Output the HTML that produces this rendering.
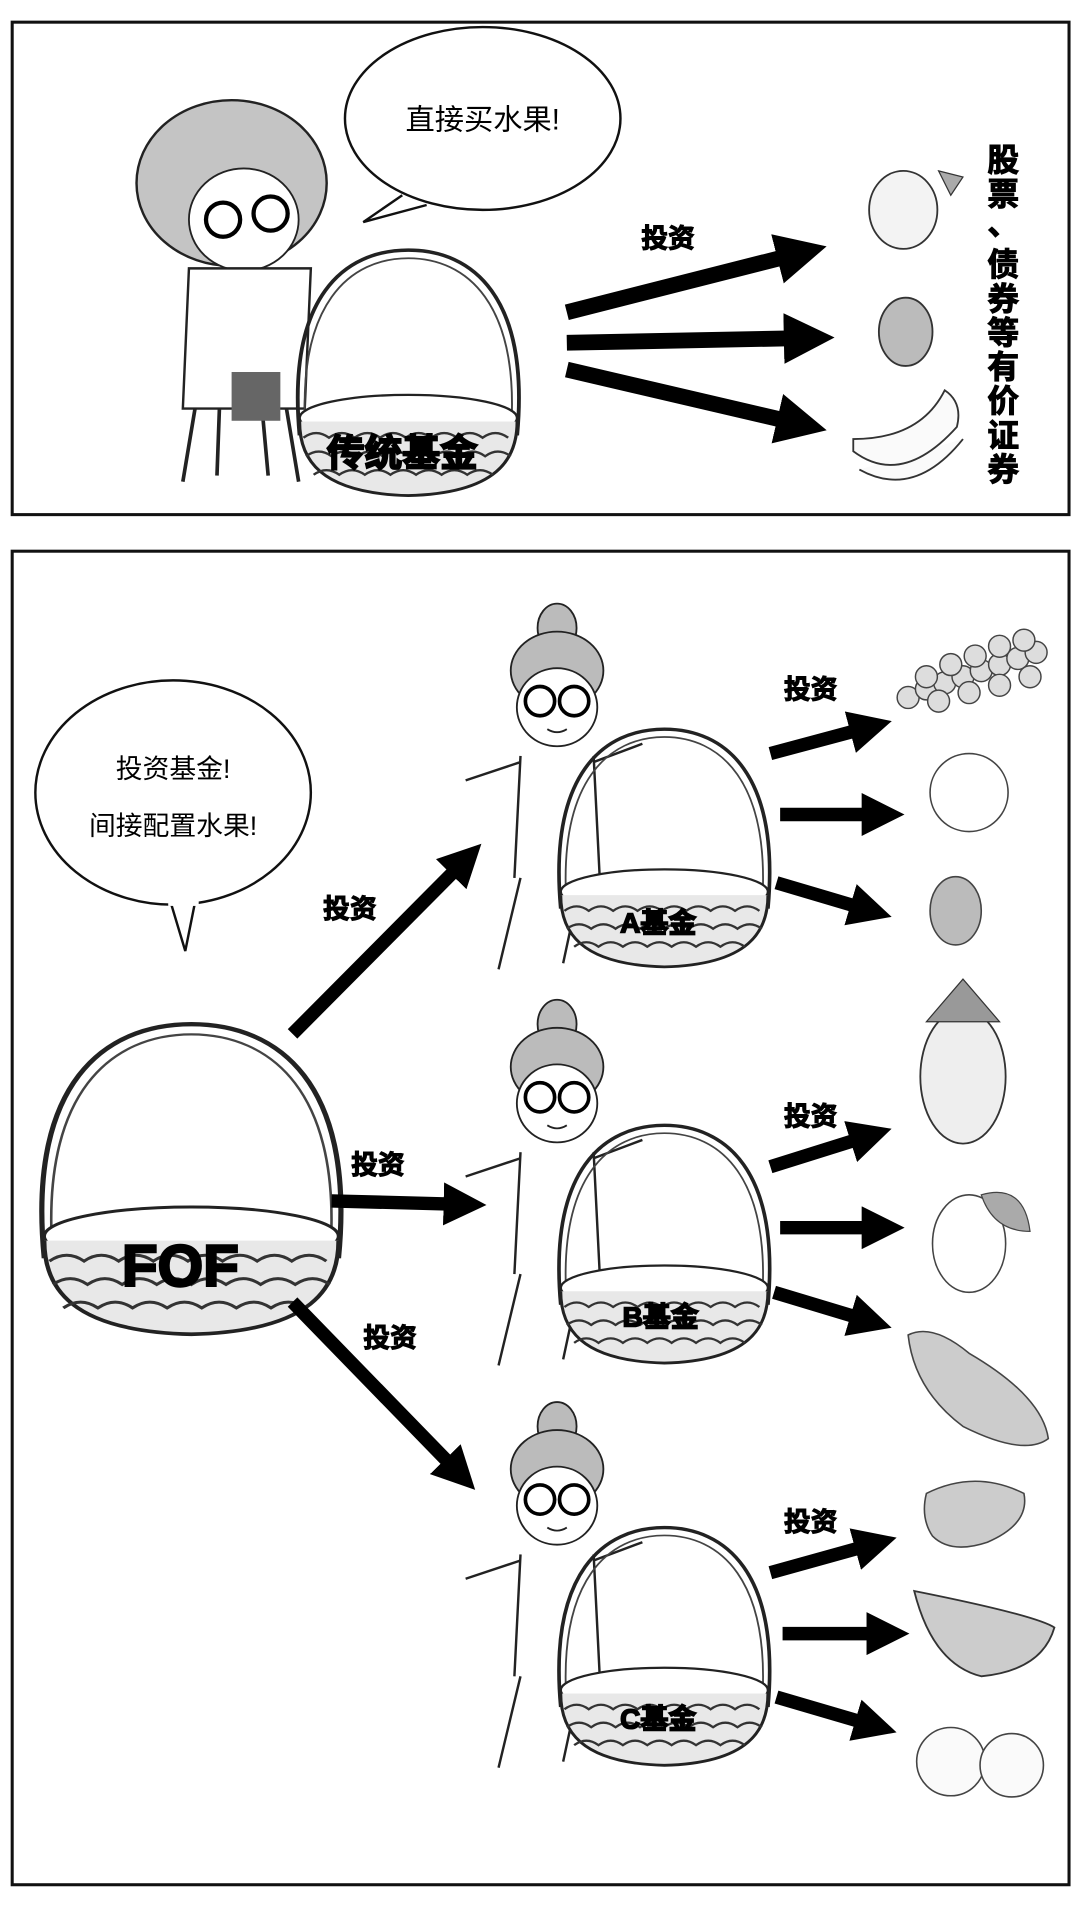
<!DOCTYPE html>
<html><head><meta charset="utf-8"><style>
html,body{margin:0;padding:0;background:#fff;}
svg{display:block;}
text{font-family:"Liberation Sans","Noto Sans CJK SC",sans-serif;}
.b{font-weight:bold;stroke:#000;stroke-width:0.9;}
</style></head><body>
<svg width="1080" height="1913" viewBox="0 0 886 1569" xmlns="http://www.w3.org/2000/svg">
<defs>
<marker id="ah" viewBox="0 0 10 10" refX="6" refY="5" markerWidth="3.2" markerHeight="3.2" orient="auto"><path d="M0,0 L10,5 L0,10 z" fill="#000"/></marker>
<g id="basket">
 <path d="M-85,60 C-95,-60 -50,-100 0,-100 C50,-100 95,-60 85,60" fill="none" stroke="#222" stroke-width="3"/>
 <path d="M-80,60 C-88,-55 -45,-93 0,-93 C45,-93 88,-55 80,60" fill="none" stroke="#444" stroke-width="1.5"/>
 <ellipse cx="0" cy="45" rx="85" ry="20" fill="#fff" stroke="#222" stroke-width="2"/>
 <path d="M-85,48 C-85,80 -70,110 0,112 C70,110 85,80 85,48" fill="#e8e8e8" stroke="#222" stroke-width="2.5"/>
 <path d="M-82,62 q10,-8 20,0 q10,-8 20,0 q10,-8 20,0 q10,-8 20,0 q10,-8 20,0 q10,-8 20,0 q10,-8 20,0 q10,-8 20,0 M-80,78 q10,-8 20,0 q10,-8 20,0 q10,-8 20,0 q10,-8 20,0 q10,-8 20,0 q10,-8 20,0 q10,-8 20,0 q10,-8 20,0 M-74,94 q10,-8 20,0 q10,-8 20,0 q10,-8 20,0 q10,-8 20,0 q10,-8 20,0 q10,-8 20,0 q10,-8 20,0" fill="none" stroke="#333" stroke-width="2"/>
</g>
<g id="granny">
 <ellipse cx="0" cy="-55" rx="16" ry="20" fill="#bbb" stroke="#222" stroke-width="1.5"/>
 <ellipse cx="0" cy="-20" rx="38" ry="32" fill="#bbb" stroke="#222" stroke-width="1.5"/>
 <ellipse cx="0" cy="10" rx="33" ry="32" fill="#fff" stroke="#222" stroke-width="1.5"/>
 <circle cx="-14" cy="5" r="12" fill="none" stroke="#000" stroke-width="3"/>
 <circle cx="14" cy="5" r="12" fill="none" stroke="#000" stroke-width="3"/>
 <path d="M-8,28 q8,5 16,0" stroke="#222" fill="none" stroke-width="1.5"/>
 <path d="M-30,50 L-35,150 M30,50 L35,150 M-30,55 L-75,70 M30,55 L70,40 M-30,150 L-48,225 M20,150 L5,220" fill="none" stroke="#222" stroke-width="2"/>
</g>
</defs>

<rect x="10" y="18" width="867" height="404" fill="#fff" stroke="#111" stroke-width="2.5"/>
<ellipse cx="396" cy="97" rx="113" ry="75" fill="#fff" stroke="#111" stroke-width="2"/>
<path d="M330,160 L298,182 L350,168" fill="#fff" stroke="#111" stroke-width="2"/>
<text x="396" y="106" font-size="24" text-anchor="middle">直接买水果!</text>

<ellipse cx="190" cy="150" rx="78" ry="68" fill="#c4c4c4" stroke="#222" stroke-width="2"/>
<ellipse cx="200" cy="180" rx="45" ry="42" fill="#fff" stroke="#222" stroke-width="1.5"/>
<circle cx="183" cy="180" r="14" fill="none" stroke="#000" stroke-width="3.5"/>
<circle cx="222" cy="175" r="14" fill="none" stroke="#000" stroke-width="3.5"/>
<path d="M155,220 L150,335 L250,335 L255,220 Z" fill="#fff" stroke="#222" stroke-width="2"/>
<path d="M160,335 L150,395 M180,335 L178,390 M235,335 L245,395 M215,335 L220,390" stroke="#222" stroke-width="3"/>
<rect x="190" y="305" width="40" height="40" fill="#666"/>
<use href="#basket" transform="translate(335,300) scale(1.05,0.95)"/>
<text x="330" y="382" font-size="31" class="b" text-anchor="middle" style="stroke-width:1.5">传统基金</text>

<text x="548" y="203" font-size="22" class="b" text-anchor="middle">投资</text>
<g stroke="#000" stroke-width="13" marker-end="url(#ah)">
<line x1="465" y1="256" x2="662" y2="206"/>
<line x1="465" y1="281" x2="668" y2="277"/>
<line x1="465" y1="303" x2="662" y2="349"/>
</g>
<ellipse cx="741" cy="172" rx="28" ry="32" fill="#f3f3f3" stroke="#333" stroke-width="1.5"/>
<path d="M770,140 l20,5 l-10,15 z" fill="#aaa" stroke="#333"/>
<ellipse cx="743" cy="272" rx="22" ry="28" fill="#bbb" stroke="#333" stroke-width="1.5"/>
<path d="M700,370 q40,30 85,-20 q5,-20 -10,-30 q-20,40 -75,40 z M705,385 q45,25 85,-25" fill="#fafafa" stroke="#333" stroke-width="1.5"/>
<g font-size="26" class="b" text-anchor="middle">
<text x="823" y="140">股</text><text x="823" y="168">票</text><text x="823" y="192">、</text>
<text x="823" y="226">债</text><text x="823" y="254">券</text><text x="823" y="282">等</text>
<text x="823" y="310">有</text><text x="823" y="338">价</text><text x="823" y="366">证</text><text x="823" y="394">券</text>
</g>

<rect x="10" y="452" width="867" height="1094" fill="#fff" stroke="#111" stroke-width="2.5"/>
<ellipse cx="142" cy="650" rx="113" ry="92" fill="#fff" stroke="#111" stroke-width="2"/>
<path d="M140,740 L152,780 L160,740" fill="#fff" stroke="#111" stroke-width="2"/>
<rect x="138" y="735" width="25" height="8" fill="#fff"/>
<text x="142" y="638" font-size="22" text-anchor="middle">投资基金!</text>
<text x="142" y="685" font-size="22" text-anchor="middle">间接配置水果!</text>

<g transform="translate(157,960) scale(1.42,1.2)"><use href="#basket"/></g>
<text x="148" y="1055" font-size="48" class="b" text-anchor="middle" style="stroke-width:2">FOF</text>

<g stroke="#000" stroke-width="11" marker-end="url(#ah)">
<line x1="240" y1="848" x2="385" y2="702"/>
<line x1="272" y1="985" x2="385" y2="988"/>
<line x1="240" y1="1068" x2="380" y2="1212"/>
</g>
<g font-size="22" class="b" text-anchor="middle">
<text x="287" y="753">投资</text>
<text x="310" y="963">投资</text>
<text x="320" y="1105">投资</text>
</g>

<use href="#granny" transform="translate(457,570)"/>
<use href="#basket" transform="translate(545,690) scale(1,0.92)"/>
<text x="540" y="765" font-size="23" class="b" text-anchor="middle" style="stroke-width:1.3">A基金</text>

<use href="#granny" transform="translate(457,895)"/>
<use href="#basket" transform="translate(545,1015) scale(1,0.92)"/>
<text x="542" y="1088" font-size="23" class="b" text-anchor="middle" style="stroke-width:1.3">B基金</text>

<use href="#granny" transform="translate(457,1225)"/>
<use href="#basket" transform="translate(545,1345) scale(1,0.92)"/>
<text x="540" y="1418" font-size="23" class="b" text-anchor="middle" style="stroke-width:1.3">C基金</text>

<g stroke="#000" stroke-width="11" marker-end="url(#ah)">
<line x1="632" y1="618" x2="718" y2="595"/>
<line x1="640" y1="668" x2="728" y2="668"/>
<line x1="637" y1="724" x2="718" y2="748"/>
<line x1="632" y1="957" x2="718" y2="930"/>
<line x1="640" y1="1007" x2="728" y2="1007"/>
<line x1="635" y1="1060" x2="718" y2="1085"/>
<line x1="632" y1="1290" x2="722" y2="1265"/>
<line x1="642" y1="1340" x2="732" y2="1340"/>
<line x1="637" y1="1392" x2="722" y2="1417"/>
</g>
<g font-size="22" class="b" text-anchor="middle">
<text x="665" y="573">投资</text>
<text x="665" y="923">投资</text>
<text x="665" y="1256">投资</text>
</g>

<g fill="#ddd" stroke="#444" stroke-width="1.2">
<circle cx="745" cy="572" r="9"/><circle cx="760" cy="565" r="9"/><circle cx="775" cy="560" r="9"/><circle cx="790" cy="555" r="9"/><circle cx="805" cy="550" r="9"/><circle cx="820" cy="545" r="9"/><circle cx="835" cy="540" r="9"/><circle cx="850" cy="535" r="9"/>
<circle cx="760" cy="555" r="9"/><circle cx="780" cy="545" r="9"/><circle cx="800" cy="538" r="9"/><circle cx="820" cy="530" r="9"/><circle cx="840" cy="525" r="9"/>
<circle cx="770" cy="575" r="9"/><circle cx="795" cy="568" r="9"/><circle cx="820" cy="562" r="9"/><circle cx="845" cy="555" r="9"/>
</g>
<circle cx="795" cy="650" r="32" fill="#fff" stroke="#444" stroke-width="1.3"/>
<ellipse cx="784" cy="747" rx="21" ry="28" fill="#bbb" stroke="#444" stroke-width="1.3"/>
<ellipse cx="790" cy="883" rx="35" ry="55" fill="#eee" stroke="#333" stroke-width="1.5"/>
<path d="M760,838 l30,-35 l30,35 z" fill="#999" stroke="#333"/>
<ellipse cx="795" cy="1020" rx="30" ry="40" fill="#fff" stroke="#444" stroke-width="1.3"/>
<path d="M805,980 q35,-10 40,30 q-30,0 -40,-30 z" fill="#aaa" stroke="#444"/>
<path d="M745,1095 q20,-10 50,15 q60,35 65,70 q-20,15 -70,-10 q-40,-30 -45,-75 z" fill="#ccc" stroke="#444" stroke-width="1.3"/>
<path d="M760,1225 q40,-20 80,0 q5,25 -30,40 q-30,10 -45,-5 q-10,-15 -5,-35 z" fill="#ccc" stroke="#444" stroke-width="1.3"/>
<path d="M750,1305 q100,20 115,30 q-10,35 -60,40 q-40,-10 -55,-70 z" fill="#ccc" stroke="#333" stroke-width="1.5"/>
<circle cx="780" cy="1445" r="28" fill="#fafafa" stroke="#444" stroke-width="1.3"/>
<circle cx="830" cy="1448" r="26" fill="#fafafa" stroke="#444" stroke-width="1.3"/>
</svg>
</body></html>
